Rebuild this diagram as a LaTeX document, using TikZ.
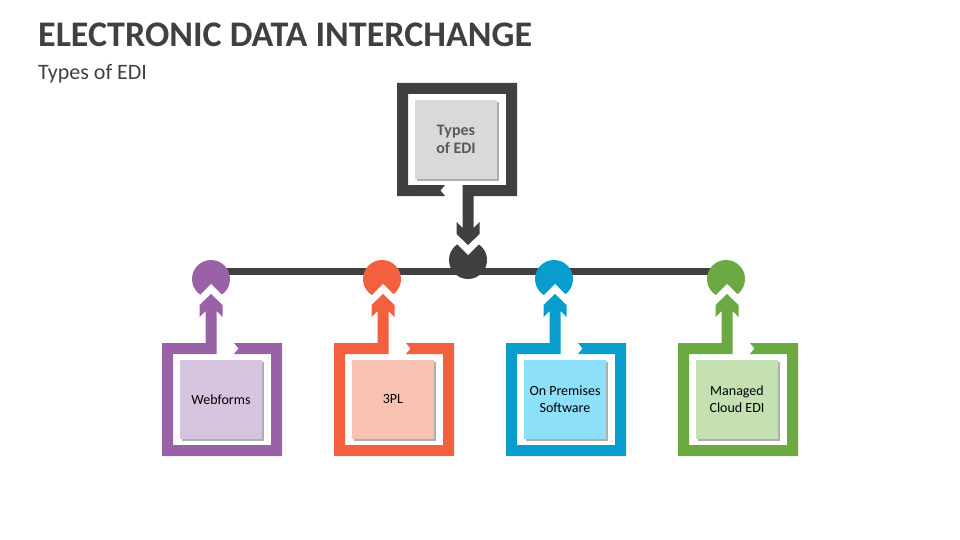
\documentclass[tikz,border=0pt]{standalone}
\usepackage{fontspec}
\setmainfont{Carlito}
\usetikzlibrary{shadows}
\definecolor{dk}{HTML}{404040}
\definecolor{txtdk}{HTML}{595959}
\definecolor{lgray}{HTML}{D9D9D9}
\definecolor{pu}{HTML}{9962A7}
\definecolor{lpu}{HTML}{D6C3DE}
\definecolor{orr}{HTML}{F26040}
\definecolor{lor}{HTML}{F8C1B1}
\definecolor{bl}{HTML}{089DCC}
\definecolor{lbl}{HTML}{8EDFFA}
\definecolor{gr}{HTML}{6BA943}
\definecolor{lgr}{HTML}{C5E0B3}
\pgfdeclarelayer{bg}
\pgfsetlayers{bg,main}
\newcommand\edipiece[1]{%
  \fill[white] (49,-59) -- (82,-26) -- (16,-26) -- cycle;
  \fill[#1] (72,0) -- (120,0) -- (120,113) -- (0,113) -- (0,0) -- (43.5,0)
    -- (43.5,-32) -- (37.5,-26) -- (37.5,-38) -- (49,-49) -- (60.5,-38)
    -- (60.5,-26) -- (54.5,-32) -- (54.5,11) -- (11,11) -- (11,102)
    -- (109,102) -- (109,11) -- (72,11) -- (76.5,5.5) -- cycle;}
\tikzset{
  hub/.style={circle, inner sep=0pt, minimum size=38pt},
  card/.style={minimum width=82pt, minimum height=79pt, inner sep=2pt, align=center,
    font=\fontsize{14}{17}\selectfont,
    drop shadow={shadow xshift=2pt, shadow yshift=-2pt, fill=black!45, opacity=0.7}},
  bus/.style={line width=7pt, dk}
}
\begin{document}
\begin{tikzpicture}[x=1pt, y=-1pt]
\begin{pgfonlayer}{bg}
\fill[white] (0,0) rectangle (960,540);
\end{pgfonlayer}
\useasboundingbox (0,0) rectangle (960,540);
\node[anchor=base west, inner sep=0pt, text=dk, font=\fontsize{36}{40}\selectfont\bfseries] (title) at (38,47) {ELECTRONIC DATA INTERCHANGE};
\node[anchor=base west, inner sep=0pt, text=dk, font=\fontsize{22}{26}\selectfont] (sub) at (38,80) {Types of EDI};
% hubs
\node[hub, fill=dk] (hT) at (468,260) {};
\node[hub, fill=pu] (hP) at (211,279) {};
\node[hub, fill=orr] (hO) at (382,279) {};
\node[hub, fill=bl] (hB) at (554,279) {};
\node[hub, fill=gr] (hG) at (726,279) {};
\begin{pgfonlayer}{bg}
\draw[bus] ([yshift=7.5pt]hP.center) -- ([yshift=7.5pt]hG.center);
\end{pgfonlayer}
% frames with arrows
\begin{scope}[shift={(517,196)}, rotate=180] \edipiece{dk} \end{scope}
\begin{scope}[shift={(162,343)}] \edipiece{pu} \end{scope}
\begin{scope}[shift={(334,343)}] \edipiece{orr} \end{scope}
\begin{scope}[shift={(506,343)}] \edipiece{bl} \end{scope}
\begin{scope}[shift={(678,343)}] \edipiece{gr} \end{scope}
% cards
\node[card, fill=lgray, text=txtdk, font=\fontsize{16}{18}\selectfont\bfseries] (top) at (456,139.5) {Types\\of EDI};
\node[card, fill=lpu] (web) at (221,399.5) {Webforms};
\node[card, fill=lor] (tpl) at (393,399.5) {3PL};
\node[card, fill=lbl] (onp) at (565,399.5) {On Premises\\Software};
\node[card, fill=lgr] (mcl) at (737,399.5) {Managed\\Cloud EDI};
\end{tikzpicture}
\end{document}
